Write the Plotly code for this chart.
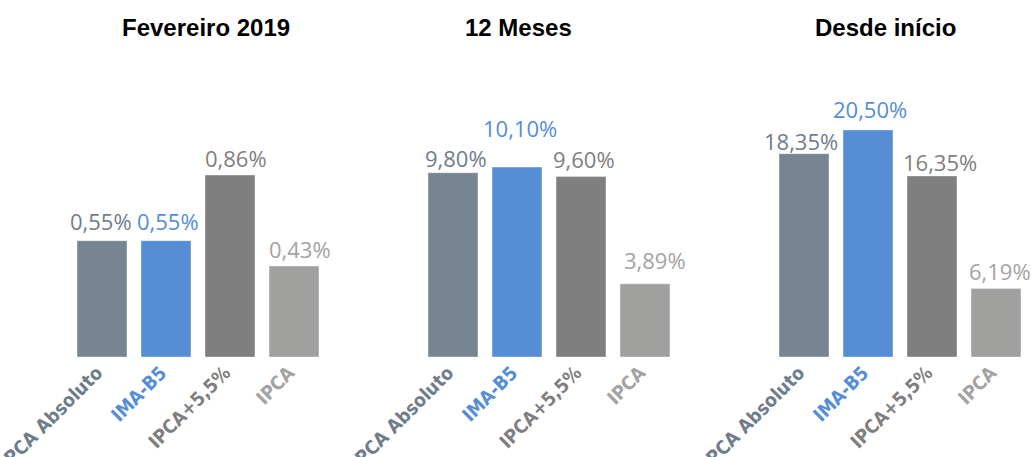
import plotly.graph_objects as go

categories = ["IPCA Absoluto", "IMA-B5", "IPCA+5,5%", "IPCA"]
fevereiro = [0.55, 0.55, 0.86, 0.43]
doze_meses = [9.80, 10.10, 9.60, 3.89]
desde_inicio = [18.35, 20.50, 16.35, 6.19]
titles = ["Fevereiro 2019", "12 Meses", "Desde início"]

bar_colors = ["#778592", "#558ed5", "#7f7f7f", "#a0a19e"]
label_colors = ["#6f7d8b", "#558ed5", "#7f7f7f", "#a3a3a3"]

W, H = 1031, 457
panels = [fevereiro, doze_meses, desde_inicio]
x_domains = [(70, 326), (421, 677), (772, 1028)]
y_ranges = [1.215, 13.67, 23.2]
title_x = [206, 518, 885]
# label offsets (pixels) above each bar, as in the original layout
label_gap = [[12, 12, 9, 9], [7, 31, 10, 16], [5, 13, 6, 9]]
label_dx = [[-1.5, 1.5, 6, 6], [2.5, 3, 2.5, 10], [-3, 2, 7.5, 4]]

def fmt(v):
    return f"{v:.2f}".replace(".", ",") + "%"

fig = go.Figure()
ticktext = [f'<span style="color:{c}"><b>{t}</b></span>' for t, c in zip(categories, label_colors)]

for i, vals in enumerate(panels):
    ax = "" if i == 0 else str(i + 1)
    fig.add_trace(go.Bar(
        x=categories, y=vals,
        xaxis="x" + ax, yaxis="y" + ax,
        marker=dict(color=bar_colors, line=dict(color="rgba(255,255,255,0.35)", width=1)),
        hoverinfo="skip",
    ))
    for j, (cat, v) in enumerate(zip(categories, vals)):
        fig.add_annotation(
            x=cat, y=v, xref="x" + ax, yref="y" + ax,
            text=fmt(v), showarrow=False,
            xanchor="center", yanchor="middle",
            yshift=label_gap[i][j] + 8, xshift=label_dx[i][j],
            font=dict(family="Open Sans", size=22, color=label_colors[j]),
        )
    d = x_domains[i]
    fig.layout["xaxis" + ax] = dict(
        domain=[d[0] / W, d[1] / W], anchor="y" + ax,
        range=[-0.5, len(categories) - 0.5], fixedrange=True,
        tickmode="array", tickvals=categories, ticktext=ticktext,
        tickangle=-45, showgrid=False, showline=False, zeroline=False,
        ticks="", automargin=False, ticklabelshift=-5,
        tickfont=dict(family="Liberation Sans Narrow, DejaVu Sans Condensed", size=19),
    )
    fig.layout["yaxis" + ax] = dict(
        domain=[100 / H, 357 / H], anchor="x" + ax,
        range=[0, y_ranges[i]], visible=False, fixedrange=True,
    )
    fig.add_annotation(
        text=f"<b>{titles[i]}</b>", x=title_x[i] / W, y=1 - 27 / H,
        xref="paper", yref="paper", showarrow=False,
        xanchor="center", yanchor="middle",
        font=dict(family="Liberation Sans, Arial", size=24, color="#000000"),
    )

fig.update_layout(
    width=W, height=H,
    margin=dict(l=0, r=0, t=0, b=0),
    paper_bgcolor="white", plot_bgcolor="white",
    showlegend=False, bargap=0.22,
)

fig.write_html(
    "out.html",
    config={"displayModeBar": False},
    post_script="document.body.style.margin='0';document.body.style.overflow='hidden';",
)
